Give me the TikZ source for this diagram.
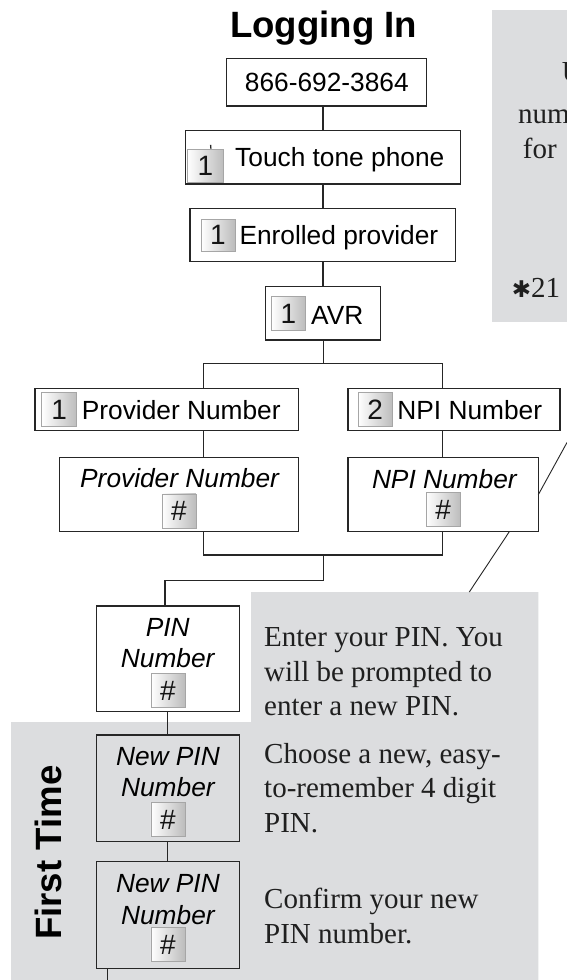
\documentclass[tikz,border=0pt]{standalone}
\usepackage{fontspec}
\setmainfont{Liberation Serif}
\newfontfamily\hv{Liberation Sans}
\newfontfamily\djv{DejaVu Sans}
\definecolor{panel}{RGB}{220,221,223}
\definecolor{ink}{RGB}{38,38,38}
\begin{document}
\begin{tikzpicture}[x=1pt,y=-1pt,
  boxr/.style={draw=ink, line width=1.2pt, rectangle, inner sep=0pt, outer sep=0pt, anchor=north west},
  conn/.style={draw=ink, line width=1.1pt},
  keyb/.style={draw=black!35, line width=0.5pt, left color=white, right color=black!26,
     minimum width=34pt, minimum height=34pt, inner sep=0pt, text=black!92,
     font=\hv\fontsize{28}{28}\selectfont},
  lbl/.style={anchor=base west, inner sep=0pt, font=\hv\fontsize{26.3}{30}\selectfont},
  ilbl/.style={anchor=base, inner sep=0pt, font=\hv\itshape\fontsize{26.3}{30}\selectfont},
  serif/.style={anchor=base west, inner sep=0pt, font=\fontsize{29}{34.6}\selectfont, text=black!88},
  ttl/.style={inner sep=0pt, font=\hv\bfseries\fontsize{36.6}{40}\selectfont}]
\useasboundingbox (0,0) rectangle (567,980);
\fill[white] (0,0) rectangle (567,980);
% grey panels
\fill[panel] (492,10) rectangle (567,322);
\fill[panel] (251,592) -- (538.3,592) -- (538.3,980) -- (11,980) -- (11,722) -- (251,722) -- cycle;

% top-right panel text (cut at the picture edge)
\begin{scope}
\clip (0,0) rectangle (567,980);
\node[serif] (u1) at (561.7,81.7) {U};
\node[serif] (u2) at (518,123.3) {num};
\node[serif] (u3) at (522.7,158.3) {for};
\node[serif] (u4) at (511.7,297) {{\djv\fontsize{23}{23}\selectfont ✱}21};
\end{scope}

% title
\node[ttl, anchor=base] (title) at (323.6,37) {Logging In};

% boxes
\node[boxr, minimum width=200pt, minimum height=47.7pt] (b866) at (226.7,58.3) {};
\node[boxr, minimum width=275.4pt, minimum height=53.3pt] (btouch) at (185.3,130.7) {};
\node[boxr, minimum width=265.7pt, minimum height=53.4pt] (benr) at (190,208.3) {};
\node[boxr, minimum width=115pt, minimum height=53.3pt] (bavr) at (265.7,286.7) {};
\node[boxr, minimum width=263.3pt, minimum height=42.4pt] (bprov) at (35,388.3) {};
\node[boxr, minimum width=212.1pt, minimum height=42.4pt] (bnpi) at (347.9,388.3) {};
\node[boxr, minimum width=239pt, minimum height=74.2pt] (bprovi) at (59.3,457.5) {};
\node[boxr, minimum width=190.4pt, minimum height=74pt] (bnpii) at (347.9,457.7) {};
\node[boxr, minimum width=142.9pt, minimum height=105.7pt] (bpin) at (96.3,606) {};
\node[boxr, minimum width=142.9pt, minimum height=106.7pt] (bnew1) at (96.3,735) {};
\node[boxr, minimum width=142.9pt, minimum height=106.6pt] (bnew2) at (96.3,861.7) {};

% box contents
\node[lbl, anchor=base] (t866) at (326.8,91.7) {866-692-3864};

\node[keyb, minimum width=36pt, minimum height=33.4pt] (k1) at (205.3,166) {1};
\node[lbl] (ttouch) at (235,166.7) {Touch tone phone};
\coordinate (mk1) at (210.6,144.8);
\coordinate (mk2) at (210.9,148.6);
\draw[ink, line width=1.3pt] (mk1) -- (mk2);

\node[keyb, minimum height=32pt] (k2) at (217.9,235) {1};
\node[lbl] (tenr) at (239.3,244) {Enrolled provider};

\node[keyb] (k3) at (288.4,313.7) {1};
\node[lbl] (tavr) at (311,324.6) {AVR};

\node[keyb, minimum width=35pt] (k4) at (59.2,409.7) {1};
\node[lbl] (tprov) at (81.7,419.3) {Provider Number};

\node[keyb, minimum width=34.5pt] (k5) at (375.2,409.7) {2};
\node[lbl] (tnpi) at (397.2,419.3) {NPI Number};

\node[ilbl, anchor=base west] (tprovi) at (80,487.5) {Provider Number};
\node[keyb] (k6) at (178.8,510.8) {\#};

\node[ilbl, anchor=base west] (tnpii) at (371.8,488) {NPI Number};
\node[keyb] (k7) at (443.1,509.7) {\#};

\node[ilbl] (tpin1) at (167.7,636) {PIN};
\node[ilbl] (tpin2) at (167.7,667.7) {Number};
\node[keyb] (k8) at (167.8,690.7) {\#};

\node[ilbl] (tn11) at (167.9,765) {New PIN};
\node[ilbl] (tn12) at (167.9,796.7) {Number};
\node[keyb] (k9) at (167.8,819.7) {\#};

\node[ilbl] (tn21) at (167.9,892.7) {New PIN};
\node[ilbl] (tn22) at (167.9,924) {Number};
\node[keyb] (k10) at (167.8,944.7) {\#};

% side texts
\node[serif] (s1) at (264,646.7) {Enter your PIN. You};
\node[serif] (s2) at (264,681) {will be prompted to};
\node[serif] (s3) at (264,715.3) {enter a new PIN.};
\node[serif] (s4) at (264,763.3) {Choose a new, easy-};
\node[serif] (s5) at (264,797.6) {to-remember 4 digit};
\node[serif] (s6) at (264,832.2) {PIN.};
\node[serif] (s7) at (264,908.3) {Confirm your new};
\node[serif] (s8) at (264,943.3) {PIN number.};

\node[ttl, rotate=90, anchor=base west] (first) at (61.7,940) {First Time};

% connectors
\coordinate (sp) at (323,0);
\draw[conn] (b866.south -| sp) -- (btouch.north -| sp);
\draw[conn] (btouch.south -| sp) -- (benr.north -| sp);
\draw[conn] (benr.south -| sp) -- (bavr.north -| sp);
\coordinate (tj) at (323.4,363.3);
\coordinate (lx) at (203.3,0);
\coordinate (rx) at (442.2,0);
\draw[conn] (bavr.south -| tj) -- (tj);
\draw[conn] (bprov.north -| lx) |- (tj) -| (bnpi.north -| rx);
\draw[conn] (bprov.south -| lx) -- (bprovi.north -| lx);
\draw[conn] (bnpi.south -| rx) -- (bnpii.north -| rx);
\coordinate (mj) at (323.6,555);
\coordinate (pj) at (165,580.5);
\draw[conn] (bprovi.south -| lx) |- (mj) -| (bnpii.south -| rx);
\draw[conn] (mj) |- (pj) -- (bpin.north -| pj);
\coordinate (px) at (167.7,0);
\draw[conn] (bpin.south -| px) -- (bnew1.north -| px);
\draw[conn] (bnew1.south -| px) -- (bnew2.north -| px);
\coordinate (endc) at (107.3,980);
\draw[conn] (bnew2.south -| endc) -- (endc);

% callout lines
\coordinate (c1) at (567,442.5);
\coordinate (c2a) at (509.3,0);
\coordinate (c2) at (469.3,592);
\draw[ink, line width=0.9pt] (bnpii.east) -- (c1);
\draw[ink, line width=0.9pt] (bnpii.south -| c2a) -- (c2);
\end{tikzpicture}
\end{document}
